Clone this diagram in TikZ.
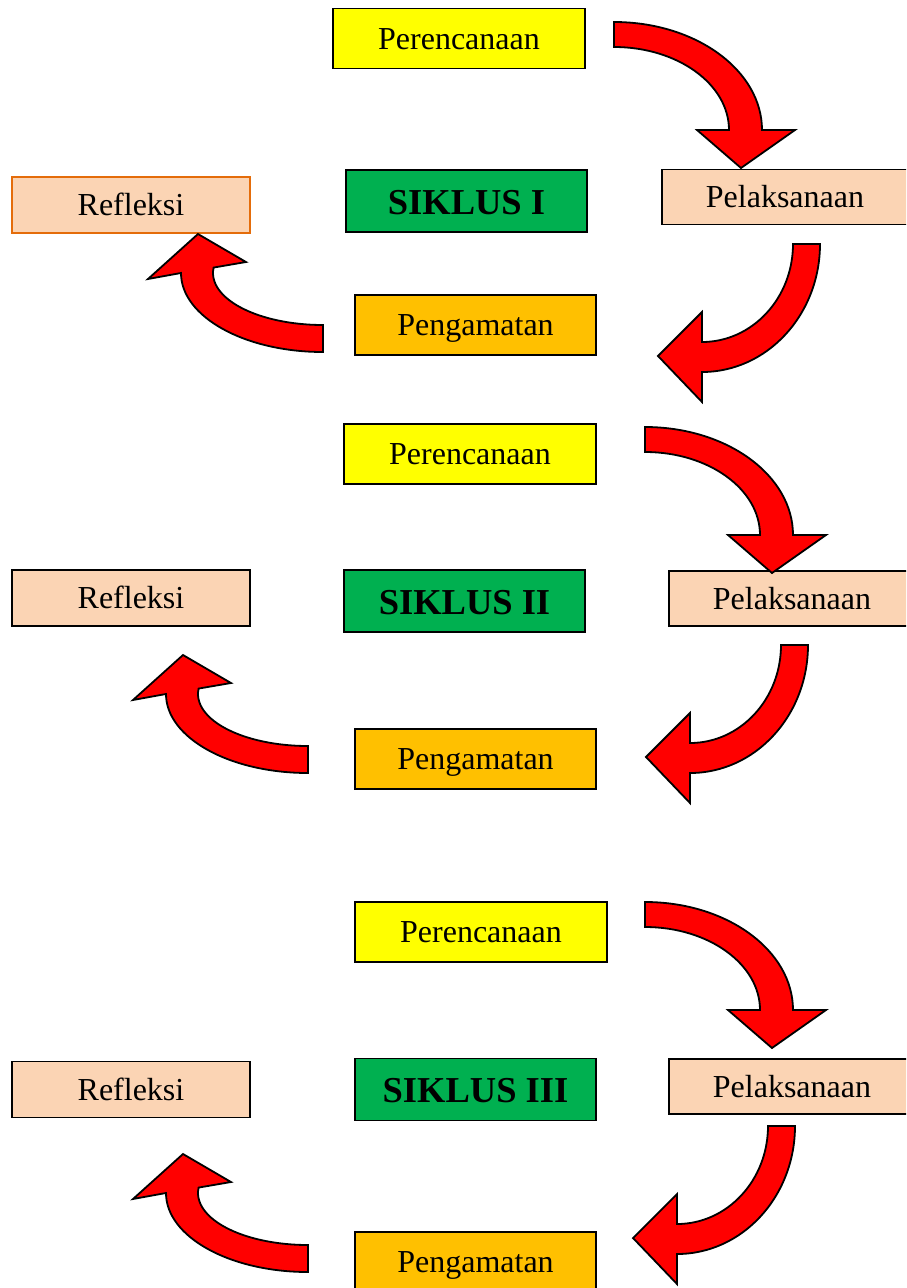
\documentclass[tikz,border=0pt]{standalone}
\usepackage{fontspec}
\setmainfont{Liberation Serif}

\definecolor{kuning}{HTML}{FFFF00}
\definecolor{hijau}{HTML}{00B050}
\definecolor{krem}{HTML}{FBD4B4}
\definecolor{jingga}{HTML}{FFC000}
\definecolor{oranye}{HTML}{E46C0A}

\tikzstyle{kotak}= [rectangle,draw=black,line width=1.3pt,inner sep=0pt,text=black,text height=21pt,text depth=0pt,font=\fontsize{32}{38}\selectfont]
\tikzstyle{rencana}= [kotak,fill=kuning,minimum width=252pt,minimum height=60pt]
\tikzstyle{siklus}= [kotak,fill=hijau,minimum width=241pt,minimum height=62pt,text height=26pt,font=\fontsize{36.5}{44}\selectfont\bfseries]
\tikzstyle{laksana}= [kotak,fill=krem,minimum width=246pt,minimum height=55pt]
\tikzstyle{refleksi}= [kotak,fill=krem,minimum width=238pt,minimum height=56pt]
\tikzstyle{amat}= [kotak,fill=jingga,minimum width=241pt,minimum height=60pt]
\tikzstyle{panah}= [draw=black,fill=red,line width=1.8pt,line join=miter]

% panah lengkung: A ke bawah, B ke kiri bawah, C ke atas
\newcommand{\panahA}[1]{\draw[panah,shift={(#1)}] (0,108) arc[start angle=90,end angle=0,x radius=148,y radius=108] -- (181,0) -- (127,-38) -- (83,0) -- (115,0) arc[start angle=0,end angle=90,x radius=115,y radius=83] -- cycle;}
\newcommand{\panahB}[1]{\draw[panah,shift={(#1)}] (118,0) arc[start angle=0,end angle=-90,x radius=118,y radius=128] -- (0,-158) -- (-44,-112) -- (0,-68) -- (0,-98) arc[start angle=-90,end angle=0,x radius=91,y radius=98] -- cycle;}
\newcommand{\panahC}[1]{\draw[panah,shift={(#1)}] (0,-79) arc[start angle=-90,end angle=-180,x radius=142,y radius=79] -- (-175,-6) -- (-125,39) -- (-77,11) -- (174:110 and 52) arc[start angle=174,end angle=270,x radius=110,y radius=52] -- cycle;}

\begin{document}
\begin{tikzpicture}[x=1pt,y=1pt]

		\useasboundingbox (0,0) rectangle (906,-1288);
		\clip (0,0) rectangle (906,-1288);

		% siklus I
		\node (per1) at (459,-38.5) [rencana] {Perencanaan};
		\node (sik1) at (466.5,-201) [siklus] {SIKLUS I};
		\node (pel1) at (785,-197) [laksana] {Pelaksanaan};
		\node (ref1) at (131,-205) [refleksi,draw=oranye] {Refleksi};
		\node (pen1) at (475.5,-325) [amat] {Pengamatan};

		% siklus II
		\node (per2) at (470,-454) [rencana] {Perencanaan};
		\node (sik2) at (464.5,-601) [siklus] {SIKLUS II};
		\node (pel2) at (792,-598.5) [laksana] {Pelaksanaan};
		\node (ref2) at (131,-598) [refleksi] {Refleksi};
		\node (pen2) at (475.5,-759) [amat] {Pengamatan};

		% siklus III
		\node (per3) at (481,-932) [rencana] {Perencanaan};
		\node (sik3) at (475.5,-1089.5) [siklus] {SIKLUS III};
		\node (pel3) at (792,-1086.5) [laksana] {Pelaksanaan};
		\node (ref3) at (131,-1089.5) [refleksi] {Refleksi};
		\node (pen3) at (475.5,-1262) [amat] {Pengamatan};

		\coordinate (a1) at (614,-130);
		\coordinate (b1) at (702,-244);
		\coordinate (c1) at (323,-273);
		\coordinate (a2) at (645,-535);
		\coordinate (b2) at (690,-645);
		\coordinate (c2) at (308,-694);
		\coordinate (a3) at (645,-1010);
		\coordinate (b3) at (677,-1126);
		\coordinate (c3) at (308,-1193);

		\panahA{a1} \panahB{b1} \panahC{c1}
		\panahA{a2} \panahB{b2} \panahC{c2}
		\panahA{a3} \panahB{b3} \panahC{c3}

	\end{tikzpicture}
\end{document}
